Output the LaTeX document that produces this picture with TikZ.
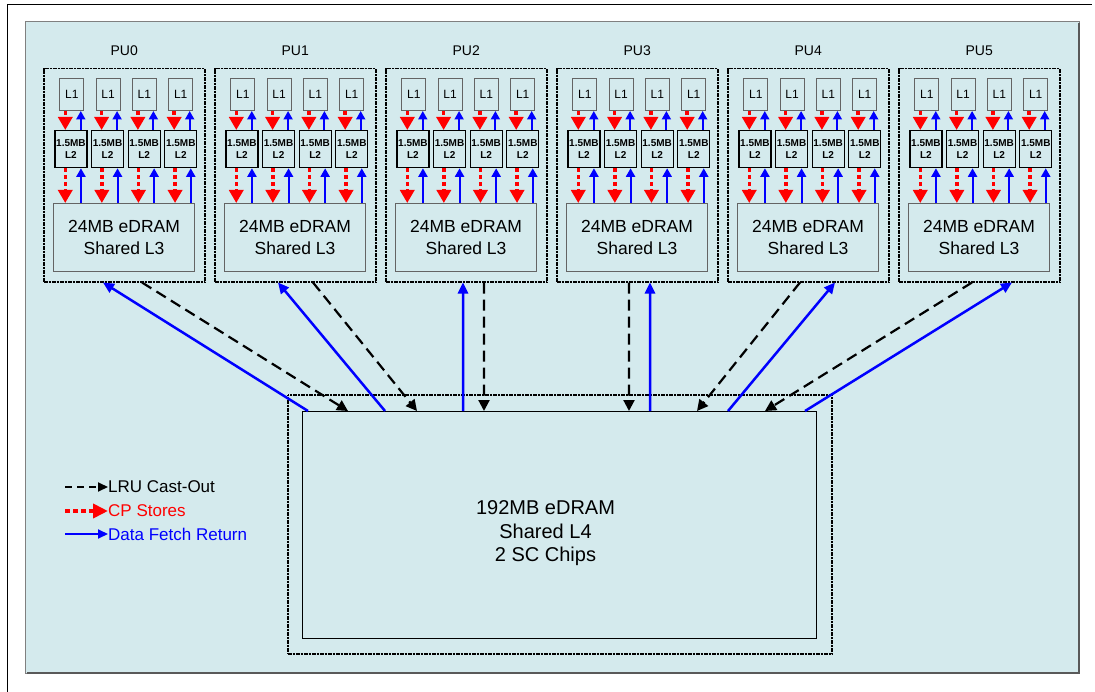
\documentclass[tikz,border=0pt]{standalone}
\usepackage{fontspec}
\setmainfont{Liberation Sans}
\usetikzlibrary{arrows.meta,positioning}
\definecolor{panelblue}{RGB}{212,234,237}
\definecolor{boxgray}{RGB}{100,100,100}
\tikzset{
  dotbox/.style={draw=black, line width=1.5bp, dash pattern=on 1.2bp off 0.4bp, inner sep=0pt},
  pulabel/.style={inner sep=0pt, font=\fontsize{14bp}{16bp}\selectfont},
  l1box/.style={draw=boxgray, line width=1bp, minimum width=24bp, minimum height=32bp, inner sep=0pt, font=\fontsize{12bp}{14bp}\selectfont},
  l2box/.style={draw=black, line width=1.3bp, minimum width=32bp, minimum height=37bp, inner sep=0pt, align=center, font=\fontsize{10bp}{12.5bp}\selectfont\bfseries},
  l3box/.style={draw=boxgray, line width=1.2bp, minimum width=141bp, minimum height=68bp, inner sep=0pt, align=center, font=\fontsize{17.5bp}{22bp}\selectfont},
  legtext/.style={inner sep=0pt, anchor=west, font=\fontsize{17bp}{20bp}\selectfont},
  store/.style={red, line width=3.5bp, dash pattern=on 4bp off 3bp, -{Triangle[length=13bp,width=14bp]}},
  fetchin/.style={blue, line width=2bp, -{Triangle[length=8.5bp,width=9bp]}},
  castout/.style={black, line width=2.2bp, dash pattern=on 11bp off 6bp, -{Triangle[length=11bp,width=11bp]}},
  fetch/.style={blue, line width=2.5bp, -{Triangle[length=11bp,width=10bp]}},
}

\begin{document}
\begin{tikzpicture}[x=1bp, y=-1bp]
		%%%%% START %%%%%
		\useasboundingbox (0,0) rectangle (1095,692);
		
		\draw[line width=1bp] (7,692) -- (7,5) -- (1092,5);
		\draw[fill=panelblue, draw=gray, line width=0.8bp] (25,21) rectangle (1079,673);
		\draw[black!65, line width=1.5bp] (1079,23) -- (1079,673) -- (27,673);
		
		%%%%% PU CHIPS %%%%%
		\foreach \i in {0,...,5}{
			\pgfmathsetmacro{\px}{43+171*\i}
			\node[dotbox, anchor=north west, minimum width=161bp, minimum height=213bp] (pu\i) at (\px,68) {};
			\node[pulabel, above=12bp of pu\i] (pulab\i) {PU\i};
			\node[l3box, anchor=north west] (l3-\i) at (\px+10,203) {24MB eDRAM\\Shared L3};
			\foreach \j in {0,...,3}{
				\node[l1box, anchor=north west] (l1-\i-\j) at (\px+16.3+36.3*\j,78) {L1};
				\node[l2box, anchor=north west] (l2-\i-\j) at (\px+11.3+36.6*\j,130) {1.5MB\\L2};
				\draw[store] ([xshift=-6.5bp]l1-\i-\j.south) -- ([xshift=-6.5bp]l1-\i-\j.south |- l2-\i-\j.north);
				\draw[fetchin] ([xshift=9bp]l1-\i-\j.south |- l2-\i-\j.north) -- ([xshift=9bp]l1-\i-\j.south);
				\draw[store] ([xshift=-5.7bp]l2-\i-\j.south) -- ([xshift=-5.7bp]l2-\i-\j.south |- l3-\i.north);
				\draw[fetchin] ([xshift=10bp]l2-\i-\j.south |- l3-\i.north) -- ([xshift=10bp]l2-\i-\j.south);
			}
		}
		
		%%%%% L4 %%%%%
		\node[dotbox, anchor=north west, minimum width=544bp, minimum height=259bp] (l4out) at (287,394) {};
		\node[draw=black, line width=1bp, anchor=north west, minimum width=514bp, minimum height=227bp, inner sep=0pt] (l4) at (302,411) {};
		\node[align=center, font=\fontsize{20bp}{23.5bp}\selectfont] (l4txt) at ([xshift=-14bp,yshift=-8.5bp]l4.center) {192MB eDRAM\\Shared L4\\2 SC Chips};
		
		%%%%% PU <-> L4 %%%%%
		\foreach \i/\bx/\dx/\lb/\ld in {0/60/99/6/46, 1/64/99/83/115, 2/78/99/161/182, 3/94/73/348/327, 4/108/73/426/395, 5/114/74/503/463}{
			\draw[fetch] ([xshift=\lb bp]l4.north west) -- ([xshift=\bx bp]pu\i.south west);
			\draw[castout] ([xshift=\dx bp]pu\i.south west) -- ([xshift=\ld bp]l4.north west);
		}
		
		%%%%% LEGEND %%%%%
		\node[legtext] (lgcast) at (108,487) {LRU Cast-Out};
		\node[legtext, text=red] (lgstore) at (108,511) {CP Stores};
		\node[legtext, text=blue] (lgfetch) at (108,534) {Data Fetch Return};
		\coordinate (lgcast0) at (65,487);
		\coordinate (lgstore0) at (65,511);
		\coordinate (lgfetch0) at (65,534);
		\draw[castout, line width=2bp, dash pattern=on 7bp off 5bp, -{Triangle[length=10bp,width=9bp]}] (lgcast0) -- (lgcast.west);
		\draw[store, line width=4bp, dash pattern=on 5bp off 3bp, -{Triangle[length=15bp,width=14bp]}] (lgstore0) -- (lgstore.west);
		\draw[fetch, line width=2bp, -{Triangle[length=10bp,width=9bp]}] (lgfetch0) -- (lgfetch.west);
		
		%%%%% END %%%%%
\end{tikzpicture}
\end{document}
